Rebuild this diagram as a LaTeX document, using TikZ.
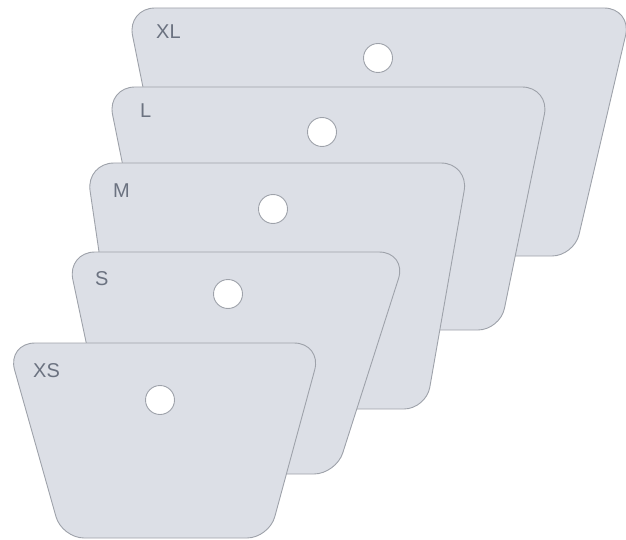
\documentclass[tikz,border=0pt]{standalone}
\usepackage{fontspec}
\setmainfont{Liberation Sans}
\usetikzlibrary{calc}
\definecolor{cardfill}{RGB}{220,223,230}
\definecolor{cardline}{RGB}{158,162,170}
\definecolor{labeltext}{RGB}{107,114,128}
\tikzset{
  card/.style={draw=cardline, fill=cardfill, line width=0.9pt, line join=round},
  hole/.style={circle, draw=cardline, fill=white, line width=0.9pt, minimum size=29pt, inner sep=0pt},
  lbl/.style={anchor=base west, inner sep=0pt, text=labeltext, font=\fontsize{20}{20}\selectfont}
}
\newcommand\ct{28pt}
\newcommand\ctc{12.6pt}
\newcommand\cb{22pt}
\newcommand\cbc{9.9pt}
\newcommand\drawcard[1]{%
  \draw[card]
   ($(#1-tl)!\ct!(#1-tr)$) -- ($(#1-tr)!\ct!(#1-tl)$)
   .. controls ($(#1-tr)!\ctc!(#1-tl)$) and ($(#1-tr)!\ctc!(#1-br)$) .. ($(#1-tr)!\ct!(#1-br)$)
   -- ($(#1-br)!\cb!(#1-tr)$)
   .. controls ($(#1-br)!\cbc!(#1-tr)$) and ($(#1-br)!\cbc!(#1-bl)$) .. ($(#1-br)!\cb!(#1-bl)$)
   -- ($(#1-bl)!\cb!(#1-br)$)
   .. controls ($(#1-bl)!\cbc!(#1-br)$) and ($(#1-bl)!\cbc!(#1-tl)$) .. ($(#1-bl)!\cb!(#1-tl)$)
   -- ($(#1-tl)!\ct!(#1-bl)$)
   .. controls ($(#1-tl)!\ctc!(#1-bl)$) and ($(#1-tl)!\ctc!(#1-tr)$) .. ($(#1-tl)!\ct!(#1-tr)$)
   -- cycle;}
\begin{document}
\begin{tikzpicture}[x=1pt, y=-1pt]
\useasboundingbox (0,0) rectangle (626,540);
% XL
\coordinate (xl-tl) at (127,8);
\coordinate (xl-tr) at (632,8);
\coordinate (xl-br) at (574,256);
\coordinate (xl-bl) at (177,256);
\drawcard{xl}
\node[hole] (xl-hole) at (378,58) {};
\node[lbl] (xl-label) at (156,39) {XL};
% L
\coordinate (l-tl) at (107,87);
\coordinate (l-tr) at (550,87);
\coordinate (l-br) at (500,330);
\coordinate (l-bl) at (156,330);
\drawcard{l}
\node[hole] (l-hole) at (322,132) {};
\node[lbl] (l-label) at (140,118) {L};
% M
\coordinate (m-tl) at (86,163);
\coordinate (m-tr) at (469,163);
\coordinate (m-br) at (426,409);
\coordinate (m-bl) at (122,409);
\drawcard{m}
\node[hole] (m-hole) at (273,209) {};
\node[lbl] (m-label) at (113,197) {M};
% S
\coordinate (s-tl) at (67,252);
\coordinate (s-tr) at (407,252);
\coordinate (s-br) at (336,474);
\coordinate (s-bl) at (114,474);
\drawcard{s}
\node[hole] (s-hole) at (228,294) {};
\node[lbl] (s-label) at (95,285) {S};
% XS
\coordinate (xs-tl) at (7,343);
\coordinate (xs-tr) at (322,343);
\coordinate (xs-br) at (269,538);
\coordinate (xs-bl) at (62,538);
\drawcard{xs}
\node[hole] (xs-hole) at (160,400) {};
\node[lbl] (xs-label) at (33,377) {XS};
\end{tikzpicture}
\end{document}
